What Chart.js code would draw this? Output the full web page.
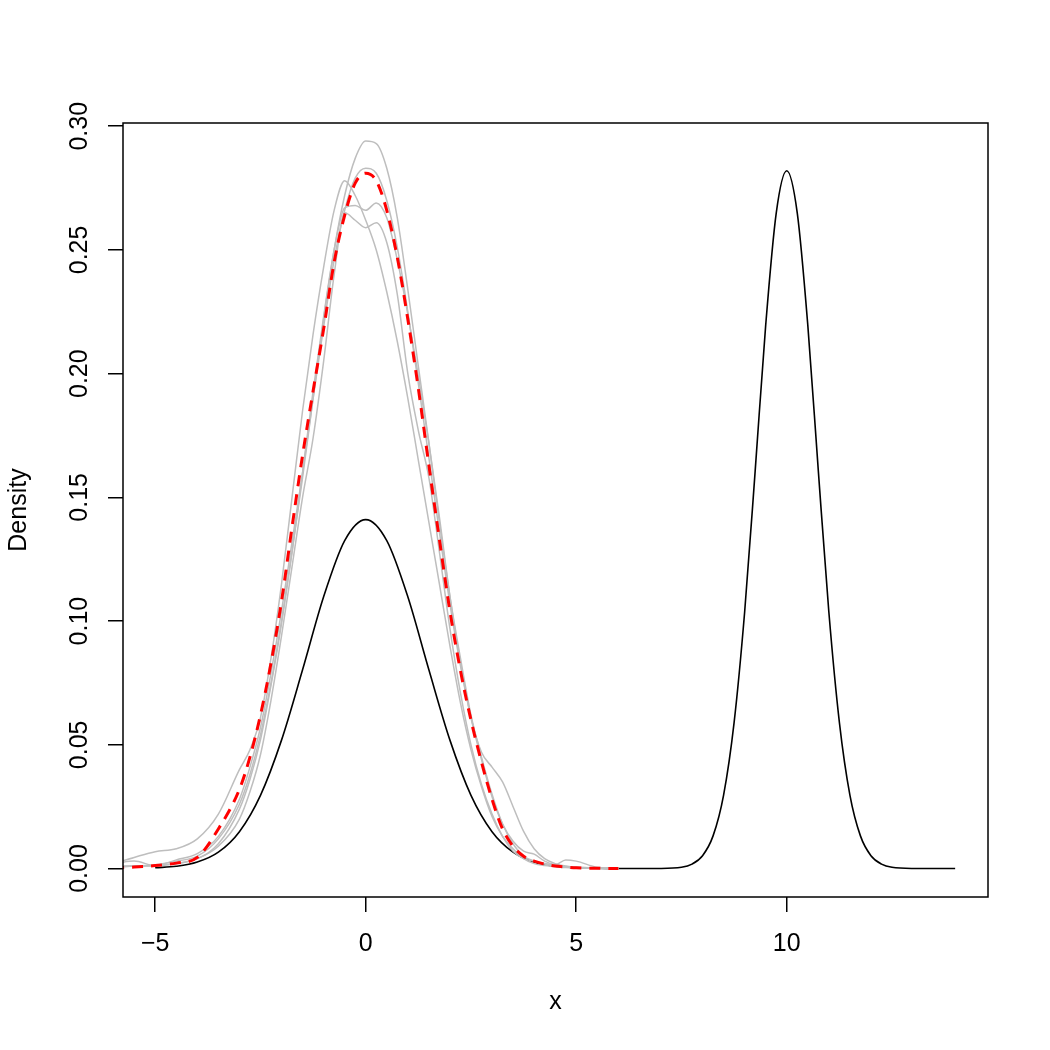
<!DOCTYPE html>
<html>
<head>
<meta charset="utf-8">
<script src="https://cdn.jsdelivr.net/npm/chart.js@4"></script>
<style>
  html, body { margin: 0; padding: 0; background: #fff; }
</style>
</head>
<body>
<canvas id="myChart" width="1050" height="1050"></canvas>
<script>
// x positions shared by the five sample densities and the mean density
const gridX = [-6, -5.5, -5, -4.5, -4, -3.5, -3, -2.75, -2.5, -2.25, -2, -1.75, -1.5, -1.25, -1,
  -0.75, -0.5, -0.25, 0, 0.25, 0.5, 0.75, 1, 1.25, 1.5, 1.75, 2, 2.25, 2.5, 2.75, 3, 3.25,
  3.5, 3.75, 4, 4.25, 4.5, 4.75, 5, 5.5, 6];

// red dashed mean density
const meanY = [0.0002, 0.0006, 0.0012, 0.0022, 0.0045, 0.016, 0.032, 0.045, 0.062, 0.083, 0.108,
  0.138, 0.167, 0.193, 0.218, 0.245, 0.264, 0.277, 0.281, 0.278, 0.266, 0.247, 0.222, 0.194,
  0.163, 0.133, 0.104, 0.080, 0.060, 0.043, 0.028, 0.016, 0.009, 0.005, 0.003, 0.0018, 0.001,
  0.0006, 0.0003, 0.0001, 0];

// grey sample densities
const sample1 = [0.0005, 0.001, 0.0015, 0.003, 0.005, 0.012, 0.026, 0.038, 0.054, 0.075, 0.100,
  0.128, 0.158, 0.190, 0.222, 0.250, 0.272, 0.287, 0.294, 0.293, 0.283, 0.263, 0.234, 0.203,
  0.172, 0.140, 0.110, 0.085, 0.062, 0.045, 0.030, 0.018, 0.010, 0.005, 0.003, 0.0018, 0.001,
  0.0007, 0.0005, 0.0002, 0];
const sample2 = [0.002, 0.0045, 0.0068, 0.008, 0.012, 0.022, 0.040, 0.048, 0.061, 0.085, 0.115,
  0.150, 0.185, 0.216, 0.243, 0.266, 0.278, 0.272, 0.262, 0.250, 0.233, 0.213, 0.190, 0.165,
  0.140, 0.115, 0.090, 0.067, 0.048, 0.033, 0.021, 0.013, 0.008, 0.004, 0.002, 0.0012, 0.0008,
  0.0004, 0.0002, 0.0001, 0];
const sample3 = [0.002, 0.003, 0.0012, 0.0035, 0.006, 0.013, 0.028, 0.041, 0.057, 0.079, 0.104,
  0.132, 0.160, 0.190, 0.219, 0.246, 0.266, 0.279, 0.283, 0.281, 0.270, 0.251, 0.225, 0.196,
  0.166, 0.136, 0.107, 0.082, 0.061, 0.044, 0.029, 0.018, 0.011, 0.007, 0.0058, 0.003, 0.0015,
  0.0008, 0.0004, 0.0001, 0];
const sample4 = [0.001, 0.001, 0.0012, 0.002, 0.004, 0.010, 0.024, 0.036, 0.052, 0.074, 0.099,
  0.128, 0.160, 0.193, 0.223, 0.250, 0.267, 0.268, 0.266, 0.269, 0.263, 0.246, 0.224, 0.199,
  0.172, 0.142, 0.110, 0.083, 0.061, 0.047, 0.041, 0.035, 0.025, 0.015, 0.008, 0.004, 0.002,
  0.001, 0.0005, 0.0002, 0];
const sample5 = [0.0005, 0.001, 0.001, 0.002, 0.004, 0.009, 0.020, 0.031, 0.046, 0.068, 0.094,
  0.122, 0.150, 0.174, 0.205, 0.240, 0.265, 0.262, 0.259, 0.261, 0.253, 0.232, 0.200, 0.177,
  0.158, 0.128, 0.097, 0.071, 0.050, 0.034, 0.022, 0.013, 0.007, 0.004, 0.003, 0.002, 0.0015,
  0.0035, 0.003, 0.0005, 0];

// black true density (two bumps)
const trueX = [-5, -4.5, -4, -3.5, -3, -2.5, -2, -1.5, -1, -0.5, 0, 0.5, 1, 1.5, 2, 2.5, 3, 3.5,
  4, 4.5, 5, 6, 7, 7.5, 7.75, 8, 8.25, 8.5, 8.75, 9, 9.25, 9.5, 9.75, 10, 10.25, 10.5, 10.75,
  11, 11.25, 11.5, 11.75, 12, 12.25, 12.5, 13, 14];
const trueY = [0.0003, 0.0009, 0.0026, 0.0066, 0.0149, 0.0296, 0.0519, 0.0803, 0.1098, 0.1325,
  0.141, 0.1325, 0.1098, 0.0803, 0.0519, 0.0296, 0.0149, 0.0066, 0.0026, 0.0009, 0.0003,
  0.00002, 0.00004, 0.0005, 0.0018, 0.0052, 0.0132, 0.0297, 0.0591, 0.1037, 0.1607, 0.2196,
  0.2649, 0.282, 0.2649, 0.2196, 0.1607, 0.1037, 0.0591, 0.0297, 0.0132, 0.0052, 0.0018,
  0.0005, 0.00004, 0];

// axis ticks
const xTicks = [-5, 0, 5, 10];
const xTickLabels = ["\u22125", "0", "5", "10"];
const yTicks = [0, 0.05, 0.10, 0.15, 0.20, 0.25, 0.30];
const yTickLabels = ["0.00", "0.05", "0.10", "0.15", "0.20", "0.25", "0.30"];

const FONT = "'Liberation Sans', Arial, Helvetica, sans-serif";
const GREY = "#BEBEBE";

function toPoints(xs, ys) {
  return xs.map((x, i) => ({ x: x, y: ys[i] }));
}

function lineSet(label, xs, ys, color, width, dash, order) {
  return {
    label: label,
    data: toPoints(xs, ys),
    borderColor: color,
    borderWidth: width,
    borderDash: dash,
    borderCapStyle: "butt",
    pointRadius: 0,
    fill: false,
    cubicInterpolationMode: "monotone",
    clip: 0,
    order: order,
  };
}

// box around the plot and the rotated y tick labels
const framePlugin = {
  id: "frame",
  afterDraw(chart) {
    const { ctx, chartArea: a, scales } = chart;
    ctx.save();
    ctx.strokeStyle = "#000";
    ctx.lineWidth = 1.5;
    ctx.strokeRect(a.left, a.top, a.right - a.left, a.bottom - a.top);
    ctx.fillStyle = "#000";
    ctx.font = "25px " + FONT;
    ctx.textAlign = "center";
    ctx.textBaseline = "middle";
    yTicks.forEach((v, i) => {
      const py = scales.y.getPixelForValue(v);
      ctx.save();
      ctx.translate(80, py);
      ctx.rotate(-Math.PI / 2);
      ctx.fillText(yTickLabels[i], 0, 0);
      ctx.restore();
    });
    ctx.restore();
  },
};

const datasets = [
  lineSet("mean", gridX, meanY, "#FF0000", 3, [11, 8], 0),
  lineSet("s1", gridX, sample1, GREY, 1.5, [], 1),
  lineSet("s2", gridX, sample2, GREY, 1.5, [], 1),
  lineSet("s3", gridX, sample3, GREY, 1.5, [], 1),
  lineSet("s4", gridX, sample4, GREY, 1.5, [], 1),
  lineSet("s5", gridX, sample5, GREY, 1.5, [], 1),
  lineSet("true", trueX, trueY, "#000000", 1.6, [], 2),
];

const axisGrid = {
  drawOnChartArea: false,
  drawTicks: true,
  tickLength: 15,
  color: "#000",
  lineWidth: 1.5,
};

const ctx = document.getElementById("myChart").getContext("2d");
const myChart = new Chart(ctx, {
  type: "line",
  data: { datasets: datasets },
  plugins: [framePlugin],
  options: {
    responsive: false,
    animation: false,
    devicePixelRatio: 1,
    events: [],
    layout: { padding: { top: 123, right: 62, left: 0, bottom: 0 } },
    plugins: { legend: { display: false }, tooltip: { enabled: false } },
    scales: {
      x: {
        type: "linear",
        min: -5.765,
        max: 14.78,
        afterBuildTicks: (scale) => { scale.ticks = xTicks.map((v) => ({ value: v })); },
        afterFit: (scale) => { scale.height = 153; },
        ticks: {
          autoSkip: false,
          maxRotation: 0,
          padding: 17,
          color: "#000",
          font: { family: FONT, size: 25, lineHeight: 1.2 },
          callback: (v, i) => xTickLabels[i],
        },
        grid: axisGrid,
        border: { display: false },
        title: {
          display: true,
          text: "x",
          color: "#000",
          font: { family: FONT, size: 25, lineHeight: 1.2 },
          padding: { top: 0, bottom: 33 },
        },
      },
      y: {
        type: "linear",
        min: -0.0115,
        max: 0.3013,
        afterBuildTicks: (scale) => { scale.ticks = yTicks.map((v) => ({ value: v })); },
        afterFit: (scale) => { scale.width = 123; },
        ticks: { display: false },
        grid: axisGrid,
        border: { display: false },
        title: {
          display: true,
          text: "Density",
          color: "#000",
          font: { family: FONT, size: 25, lineHeight: 1.2 },
          padding: { top: 4, bottom: 0 },
        },
      },
    },
  },
});
</script>
</body>
</html>
